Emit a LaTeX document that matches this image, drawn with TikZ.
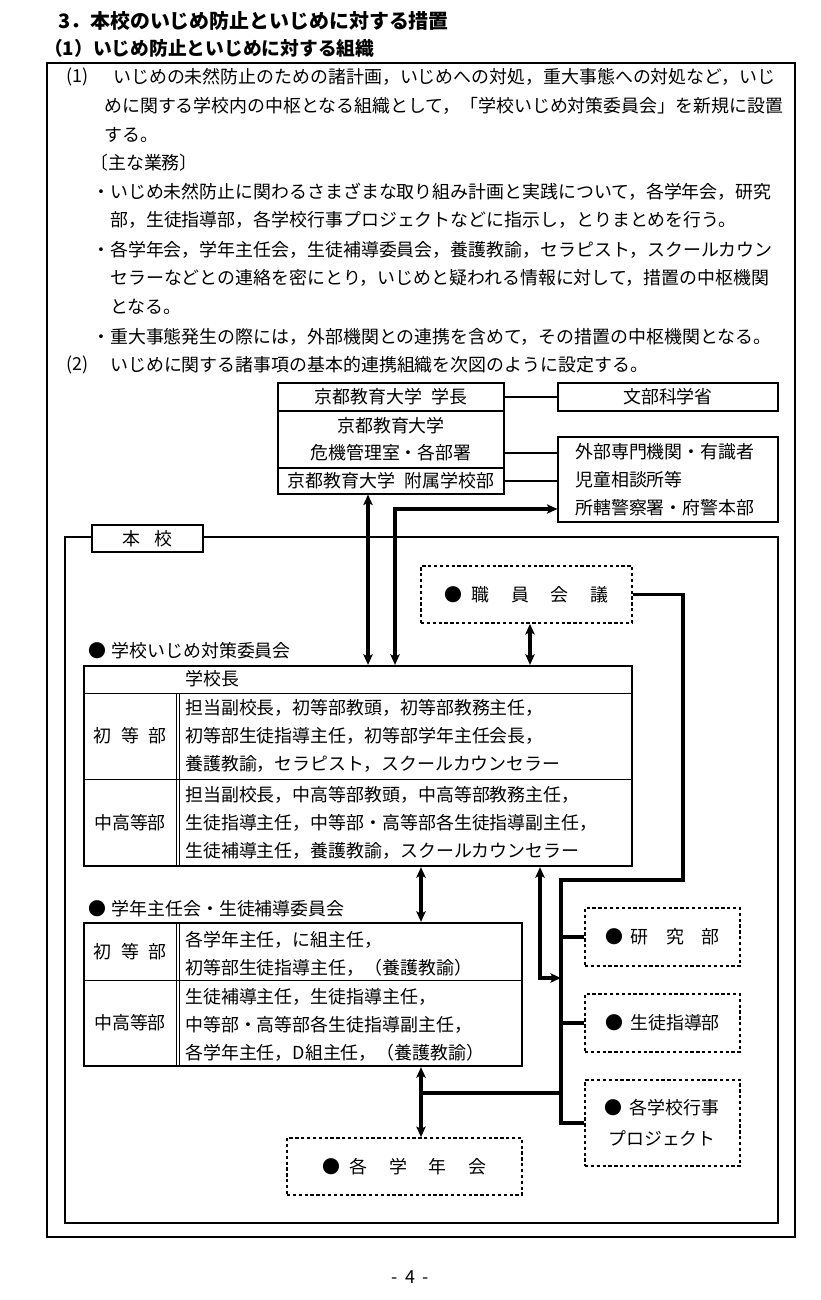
\documentclass[tikz,border=0pt]{standalone}
\usepackage{fontspec}
\setmainfont{Noto Sans CJK JP}
\usetikzlibrary{positioning}
\usetikzlibrary{fit}
\usetikzlibrary{arrows.meta}
\tikzset{
    objBox/.style={rectangle, draw=black, line width=0.9pt, inner sep=0pt},
    objTable/.style={rectangle, draw=black, line width=1.9pt, inner sep=0pt},
    objDashBox/.style={rectangle, draw=black, line width=1.5pt, dash pattern=on 2.8pt off 2.2pt, inner sep=0pt},
    objText/.style={anchor=west, inner sep=0pt},
    objHead/.style={anchor=west, inner sep=0pt, font=\bfseries\fontsize{17pt}{20pt}\selectfont},
    objRule/.style={line width=0.8pt},
    link/.style={line width=1.7pt},
    linkThick/.style={line width=2.8pt},
    dblArrow/.style={line width=2.8pt, <->, >={Stealth[length=9pt, width=8pt, inset=2pt]}}
}

\begin{document}
\begin{tikzpicture}[x=0.3mm, y=-0.3mm, font=\fontsize{15.3pt}{18pt}\selectfont]
  \useasboundingbox (0,0) rectangle (820,1300);

  \node (head1) [objHead] at (58,21) {3．本校のいじめ防止といじめに対する措置};
  \node (head2) [objHead, font=\bfseries\fontsize{16pt}{19pt}\selectfont] at (44,48) {（1）いじめ防止といじめに対する組織};

  \node (outer) [objBox, fit={(47,63) (795,1237)}] {};

  \node (p01n) [objText] at (66,77) {(1)};
  \node (p01) [objText] at (113,77) {いじめの未然防止のための諸計画，いじめへの対処，重大事態への対処など，いじ};
  \node (p02) [objText] at (104,106) {めに関する学校内の中枢となる組織として，「学校いじめ対策委員会」を新規に設置};
  \node (p03) [objText] at (104,135) {する。};
  \node (p04) [objText] at (90,163) {〔主な業務〕};
  \node (p05) [objText] at (92,192) {・いじめ未然防止に関わるさまざまな取り組み計画と実践について，各学年会，研究};
  \node (p06) [objText] at (110,220) {部，生徒指導部，各学校行事プロジェクトなどに指示し，とりまとめを行う。};
  \node (p07) [objText] at (92,250) {・各学年会，学年主任会，生徒補導委員会，養護教諭，セラピスト，スクールカウン};
  \node (p08) [objText] at (110,278) {セラーなどとの連絡を密にとり，いじめと疑われる情報に対して，措置の中枢機関};
  \node (p09) [objText] at (110,307) {となる。};
  \node (p10) [objText] at (92,337) {・重大事態発生の際には，外部機関との連携を含めて，その措置の中枢機関となる。};
  \node (p11n) [objText] at (66,365) {(2)};
  \node (p11) [objText] at (110,365) {いじめに関する諸事項の基本的連携組織を次図のように設定する。};

  % university and outside
  \node (gakucho) [objBox, fit={(278,383) (504,411)}, label=center:{京都教育大学\hspace{0.5em}学長}] {};
  \node (kiki) [objBox, fit={(278,411) (504,468)}] {};
  \node (kikiA) at (391,426) {京都教育大学};
  \node (kikiB) at (391,453) {危機管理室・各部署};
  \node (fuzoku) [objBox, fit={(278,468) (504,494)}, label=center:{京都教育大学\hspace{0.5em}附属学校部}] {};
  \node (monka) [objBox, fit={(558,383) (778,411)}, label=center:{文部科学省}] {};
  \node (gaibu) [objBox, fit={(558,437) (778,522)}] {};
  \node (gaibuA) [objText] at (575,452) {外部専門機関・有識者};
  \node (gaibuB) [objText] at (575,480) {児童相談所等};
  \node (gaibuC) [objText] at (575,508) {所轄警察署・府警本部};

  % school
  \node (honkou) [objTable, fit={(65,537) (778,1223)}] {};
  \node (honkouLbl) [objBox, fill=white, fit={(92,525) (203,552)}, label=center:{本\hspace{0.8em}校}] {};

  \node (shokuin) [objDashBox, fit={(421,566) (632,623)}, label=center:{●\hspace{0.5em}職\hspace{1.2em}員\hspace{1.2em}会\hspace{1.2em}議}] {};

  \node (iinkaiTtl) [objText] at (88,651) {●\hspace{0.3em}学校いじめ対策委員会};
  \node (iinkai) [objTable, fit={(84,666) (632,866)}] {};
  \draw[objRule] (84,693) -- (632,693);
  \draw[objRule] (84,779) -- (632,779);
  \draw[objRule] (176,693) -- (176,866);
  \draw[objRule] (179.5,693) -- (179.5,866);
  \node (iiA0) [objText] at (185,679) {学校長};
  \node (iiL1) at (130,736) {初\hspace{0.55em}等\hspace{0.55em}部};
  \node (iiA1) [objText] at (185,708) {担当副校長，初等部教頭，初等部教務主任，};
  \node (iiA2) [objText] at (185,736) {初等部生徒指導主任，初等部学年主任会長，};
  \node (iiA3) [objText] at (185,764) {養護教諭，セラピスト，スクールカウンセラー};
  \node (iiL2) at (130,823) {中高等部};
  \node (iiB1) [objText] at (185,795) {担当副校長，中高等部教頭，中高等部教務主任，};
  \node (iiB2) [objText] at (185,823) {生徒指導主任，中等部・高等部各生徒指導副主任，};
  \node (iiB3) [objText] at (185,851) {生徒補導主任，養護教諭，スクールカウンセラー};

  \node (gakunenTtl) [objText] at (88,909) {●\hspace{0.3em}学年主任会・生徒補導委員会};
  \node (gakunen) [objTable, fit={(84,923) (522,1066)}] {};
  \draw[objRule] (84,980) -- (522,980);
  \draw[objRule] (176,923) -- (176,1066);
  \draw[objRule] (179.5,923) -- (179.5,1066);
  \node (gnL1) at (130,952) {初\hspace{0.55em}等\hspace{0.55em}部};
  \node (gnA1) [objText] at (185,940) {各学年主任，に組主任，};
  \node (gnA2) [objText] at (185,968) {初等部生徒指導主任，（養護教諭）};
  \node (gnL2) at (130,1023) {中高等部};
  \node (gnB1) [objText] at (185,997) {生徒補導主任，生徒指導主任，};
  \node (gnB2) [objText] at (185,1025) {中等部・高等部各生徒指導副主任，};
  \node (gnB3) [objText] at (185,1053) {各学年主任，D組主任，（養護教諭）};

  \node (kenkyu) [objDashBox, fit={(585,908) (740,966)}, label=center:{●\hspace{0.4em}研\hspace{1em}究\hspace{1em}部}] {};
  \node (seito) [objDashBox, fit={(585,994) (740,1052)}, label=center:{●\hspace{0.4em}生徒指導部}] {};
  \node (gyoji) [objDashBox, fit={(585,1080) (740,1166)}] {};
  \node (gyojiA) at (662,1108) {●\hspace{0.4em}各学校行事};
  \node (gyojiB) at (662,1138) {プロジェクト};
  \node (gakunenkai) [objDashBox, fit={(287,1138) (522,1195)}, label=center:{●\hspace{0.5em}各\hspace{1.2em}学\hspace{1.2em}年\hspace{1.2em}会}] {};

  \node (page) at (410,1277) {-\hspace{0.4em}4\hspace{0.4em}-};

  \coordinate (cA) at (368,0);
  \coordinate (cB) at (395,509);
  \coordinate (cC) at (530,0);
  \coordinate (cD) at (683,880);
  \coordinate (cE) at (561,880);
  \coordinate (cF) at (421,0);
  \coordinate (cG) at (540,978);
  \coordinate (cH) at (421,1093);

  \draw[link] (gakucho.east) -- (monka.west);
  \draw[link] (kikiB -| kiki.east) -- (kikiB -| gaibu.west);
  \draw[link] (fuzoku.east) -- (fuzoku.east -| gaibu.west);

  \draw[dblArrow] (fuzoku.south -| cA) -- (iinkai.north -| cA);
  \draw[dblArrow] (iinkai.north -| cB) |- (cB -| gaibu.west);
  \draw[dblArrow] (shokuin.south -| cC) -- (iinkai.north -| cC);

  \draw[linkThick] (shokuin.east) -| (cD) -- (cE) |- (gyoji.west);
  \draw[linkThick] (kenkyu.west) -- (kenkyu.west -| cE);
  \draw[linkThick] (seito.west) -- (seito.west -| cE);
  \draw[dblArrow] (iinkai.south -| cG) |- (cG -| cE);

  \draw[dblArrow] (iinkai.south -| cF) -- (gakunen.north -| cF);
  \draw[dblArrow] (gakunen.south -| cF) -- (gakunenkai.north -| cF);
  \draw[linkThick] (cH) -- (cH -| cE);
\end{tikzpicture}
\end{document}
